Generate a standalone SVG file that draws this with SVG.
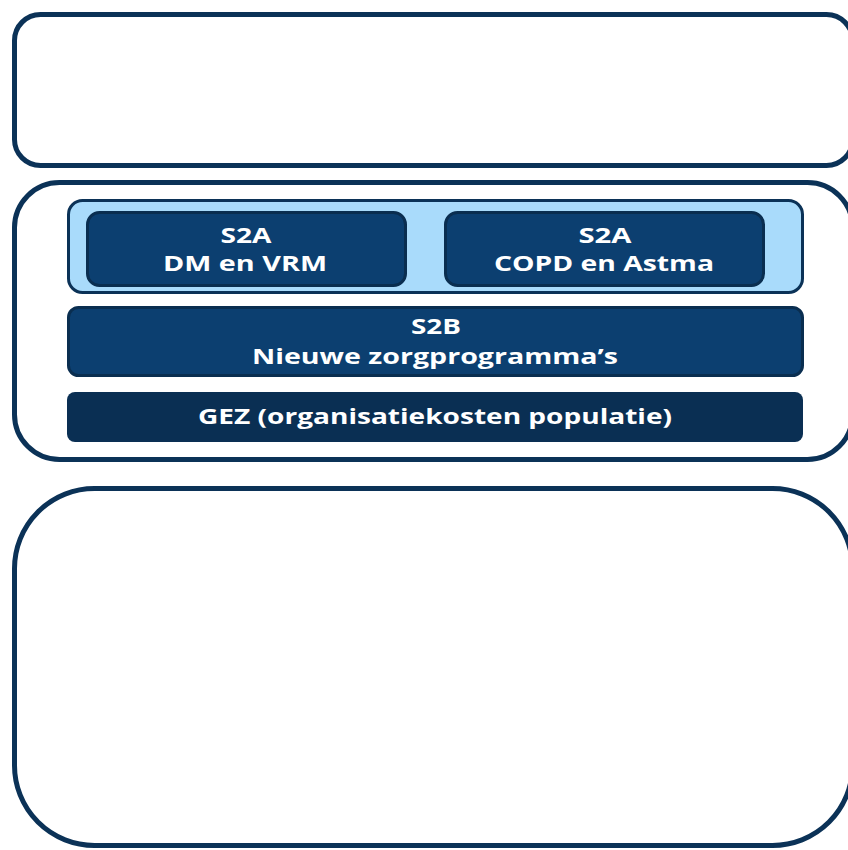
<svg xmlns="http://www.w3.org/2000/svg" width="848" height="850" viewBox="0 0 848 850">
<style>
.frame{fill:#ffffff;stroke:#0b3257;stroke-width:5}
.band{fill:#a9dbfb;stroke:#0b3257;stroke-width:3}
.box{fill:#0c3f70;stroke:#0a2e50;stroke-width:3}
.gez{fill:#0a2f53;stroke:none}
.t{font-family:"Open Sans","Liberation Sans",sans-serif;font-weight:bold;font-size:22px;fill:#ffffff;text-anchor:middle}
</style>
<rect width="848" height="850" fill="#ffffff"/>
<g id="top-frame"><rect class="frame" x="14.5" y="14.5" width="838" height="151" rx="26"/></g>
<g id="middle-frame"><rect class="frame" x="14.5" y="182.5" width="838" height="277" rx="45"/></g>
<g id="bottom-frame"><rect class="frame" x="14.5" y="488.5" width="838" height="357" rx="80"/></g>
<g id="s2a-band"><rect class="band" x="68.5" y="200.5" width="734" height="92" rx="14"/></g>
<g id="s2a-dm">
<rect class="box" x="87.5" y="212.5" width="318" height="73" rx="12"/>
<text class="t" x="246" y="243" textLength="51" lengthAdjust="spacingAndGlyphs">S2A</text>
<text class="t" x="245" y="271" textLength="164" lengthAdjust="spacingAndGlyphs">DM en VRM</text>
</g>
<g id="s2a-copd">
<rect class="box" x="445.5" y="212.5" width="318" height="73" rx="12"/>
<text class="t" x="605" y="243" textLength="53" lengthAdjust="spacingAndGlyphs">S2A</text>
<text class="t" x="604" y="271" textLength="220" lengthAdjust="spacingAndGlyphs">COPD en Astma</text>
</g>
<g id="s2b">
<rect class="box" x="68.5" y="307.5" width="734" height="68" rx="10"/>
<text class="t" x="436" y="334" textLength="50" lengthAdjust="spacingAndGlyphs">S2B</text>
<text class="t" x="435" y="364" textLength="366" lengthAdjust="spacingAndGlyphs">Nieuwe zorgprogramma’s</text>
</g>
<g id="gez">
<rect class="gez" x="67" y="392" width="736" height="50" rx="8"/>
<text class="t" x="435" y="424" textLength="474" lengthAdjust="spacingAndGlyphs">GEZ (organisatiekosten populatie)</text>
</g>
<g id="connectors"></g>
</svg>
